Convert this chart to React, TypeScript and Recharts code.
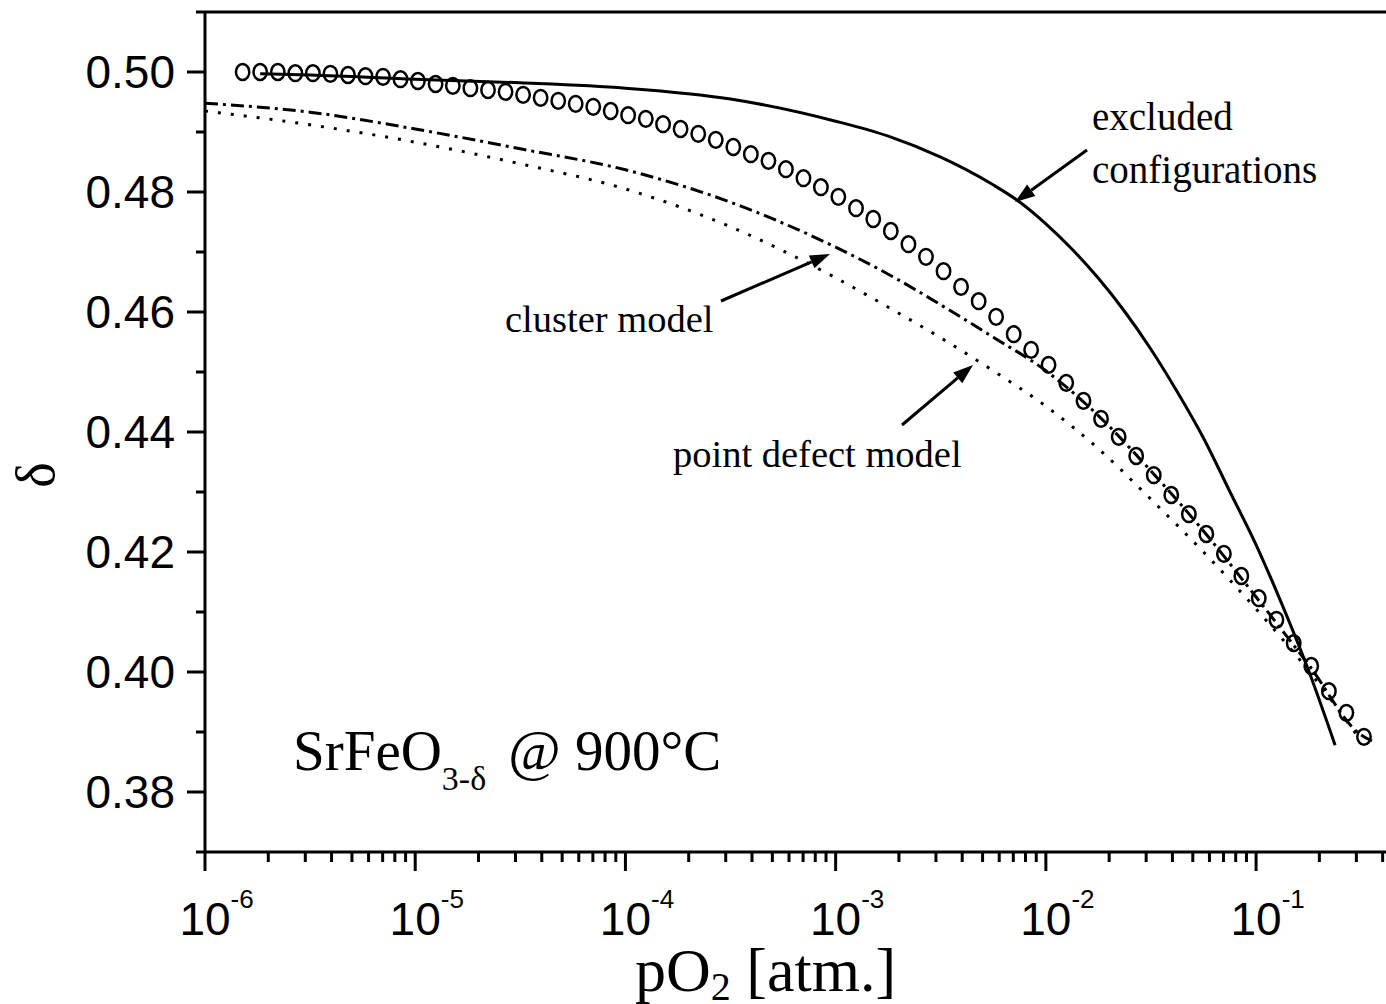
import React from 'react';
import { ComposedChart, Line, Scatter, XAxis, YAxis, ReferenceLine } from 'recharts';

// measured points (open circles)
const measuredP = [
  1.51e-6, 1.83e-6, 2.22e-6, 2.69e-6, 3.26e-6, 3.95e-6, 4.79e-6, 5.8e-6, 7.03e-6, 8.51e-6, 1.03e-5, 1.25e-5,
  1.51e-5, 1.83e-5, 2.22e-5, 2.69e-5, 3.26e-5, 3.95e-5, 4.79e-5, 5.8e-5, 7.03e-5, 8.51e-5, 1.03e-4, 1.25e-4,
  1.51e-4, 1.83e-4, 2.22e-4, 2.69e-4, 3.26e-4, 3.95e-4, 4.79e-4, 5.8e-4, 7.03e-4, 8.51e-4, 1.03e-3, 1.25e-3,
  1.51e-3, 1.83e-3, 2.22e-3, 2.69e-3, 3.26e-3, 3.95e-3, 4.79e-3, 5.8e-3, 7.03e-3, 8.51e-3, 1.03e-2, 1.25e-2,
  1.51e-2, 1.83e-2, 2.22e-2, 2.69e-2, 3.26e-2, 3.95e-2, 4.79e-2, 5.8e-2, 7.03e-2, 8.51e-2, 1.03e-1, 1.25e-1,
  1.51e-1, 1.83e-1, 2.22e-1, 2.69e-1, 3.26e-1,
];
const measuredDelta = [
  0.5, 0.5, 0.5, 0.4998, 0.4998, 0.4997, 0.4995, 0.4993, 0.4992, 0.4988, 0.4985, 0.498,
  0.4977, 0.4973, 0.497, 0.4967, 0.4962, 0.4957, 0.4952, 0.4947, 0.4942, 0.4935, 0.4928, 0.4922,
  0.4913, 0.4905, 0.4897, 0.4887, 0.4875, 0.4863, 0.4852, 0.4838, 0.4823, 0.4808, 0.4792, 0.4773,
  0.4755, 0.4735, 0.4713, 0.4692, 0.4668, 0.4642, 0.4618, 0.4592, 0.4563, 0.4537, 0.4512, 0.4482,
  0.4452, 0.4422, 0.4392, 0.436, 0.4328, 0.4295, 0.4263, 0.423, 0.4197, 0.416, 0.4123, 0.4087,
  0.4048, 0.401, 0.3968, 0.3932, 0.3892,
];

// excluded configurations model (solid)
const excludedP = [
  1.83e-6, 3.16e-6, 1e-5, 3.16e-5, 1e-4, 3.16e-4, 1e-3, 1.78e-3, 3.16e-3, 5.61e-3, 7.53e-3, 1e-2,
  1.33e-2, 1.77e-2, 2.38e-2, 3.16e-2, 4.25e-2, 5.66e-2, 7.52e-2, 1e-1, 1.345e-1, 1.788e-1, 2.377e-1,
];
const excludedDelta = [
  0.4997, 0.4995, 0.4988, 0.4982, 0.4973, 0.4955, 0.4918, 0.4893, 0.4858, 0.4812, 0.4783, 0.4747,
  0.4705, 0.4657, 0.46, 0.4538, 0.4465, 0.4388, 0.43, 0.4212, 0.4108, 0.4, 0.3878,
];

// cluster model (dash-dot)
const clusterP = [1e-6, 3.16e-6, 1e-5, 3.16e-5, 1e-4, 3.16e-4, 1e-3, 1.78e-3, 3.16e-3, 5.62e-3, 1e-2, 1.78e-2, 3.16e-2, 5.62e-2, 1e-1, 1.78e-1, 3.16e-1, 3.56e-1];
const clusterDelta = [0.4948, 0.4933, 0.4905, 0.4872, 0.4837, 0.4783, 0.4708, 0.4663, 0.4612, 0.4558, 0.4502, 0.4427, 0.4335, 0.4235, 0.4125, 0.4012, 0.3895, 0.3885];

// point defect model (dotted)
const pointP = [1e-6, 3.16e-6, 1e-5, 3.16e-5, 1e-4, 3.16e-4, 1e-3, 1.78e-3, 3.16e-3, 5.62e-3, 1e-2, 1.78e-2, 3.16e-2, 5.62e-2, 1e-1, 1.78e-1, 3.16e-1];
const pointDelta = [0.4935, 0.4912, 0.4883, 0.4847, 0.4805, 0.4742, 0.4657, 0.4608, 0.4557, 0.4502, 0.4443, 0.4372, 0.4288, 0.42, 0.4105, 0.4002, 0.3885];

const xTicks = [
  1e-6, 2e-6, 3e-6, 4e-6, 5e-6, 6e-6, 7e-6, 8e-6, 9e-6,
  1e-5, 2e-5, 3e-5, 4e-5, 5e-5, 6e-5, 7e-5, 8e-5, 9e-5,
  1e-4, 2e-4, 3e-4, 4e-4, 5e-4, 6e-4, 7e-4, 8e-4, 9e-4,
  1e-3, 2e-3, 3e-3, 4e-3, 5e-3, 6e-3, 7e-3, 8e-3, 9e-3,
  1e-2, 2e-2, 3e-2, 4e-2, 5e-2, 6e-2, 7e-2, 8e-2, 9e-2,
  1e-1, 2e-1, 3e-1, 4e-1,
];
const yTicks = [0.37, 0.38, 0.39, 0.4, 0.41, 0.42, 0.43, 0.44, 0.45, 0.46, 0.47, 0.48, 0.49, 0.5, 0.51];

const zip = (ps: number[], ds: number[]) => ps.map((p, i) => ({ p, d: ds[i] }));
const measured = zip(measuredP, measuredDelta);
const excluded = zip(excludedP, excludedDelta);
const cluster = zip(clusterP, clusterDelta);
const pointDefect = zip(pointP, pointDelta);

const SANS = '"Liberation Sans", Arial, Helvetica, sans-serif';
const SERIF = '"Liberation Serif", "Times New Roman", Times, serif';

const XTick = (props: any) => {
  const { x, y, payload } = props;
  const v = payload.value as number;
  const lg = Math.log10(v);
  const e = Math.round(lg);
  const major = Math.abs(lg - e) < 1e-6;
  return (
    <g>
      <line x1={x} y1={y} x2={x} y2={y + (major ? 19 : 10)} stroke="#000" strokeWidth={3} />
      {major && (
        <text x={x - 25.6} y={y + 83} fontFamily={SANS} fontSize={46} fill="#000">
          10<tspan fontSize={26} dy={-27}>{String(e)}</tspan>
        </text>
      )}
    </g>
  );
};

const YTick = (props: any) => {
  const { x, y, payload } = props;
  const v = payload.value as number;
  const major = Math.round(v * 100) % 2 === 0;
  return (
    <g>
      <line x1={x} y1={y} x2={x - (major ? 18 : 9)} y2={y} stroke="#000" strokeWidth={3} />
      {major && (
        <text x={x - 30} y={y + 16} fontFamily={SANS} fontSize={46} textAnchor="end" fill="#000">{v.toFixed(2)}</text>
      )}
    </g>
  );
};

const OpenCircle = (props: any) => {
  const { cx, cy } = props;
  return <ellipse cx={cx} cy={cy} rx={6.7} ry={7.9} fill="none" stroke="#000" strokeWidth={2.5} />;
};

const Arrow = ({ x1, y1, x2, y2 }: { x1: number; y1: number; x2: number; y2: number }) => {
  const a = Math.atan2(y2 - y1, x2 - x1);
  const L = 20;
  const W = 7;
  const bx = x2 - L * Math.cos(a);
  const by = y2 - L * Math.sin(a);
  const px = -Math.sin(a) * W;
  const py = Math.cos(a) * W;
  return (
    <g>
      <line x1={x1} y1={y1} x2={bx} y2={by} stroke="#000" strokeWidth={3} />
      <polygon points={`${x2},${y2} ${bx + px},${by + py} ${bx - px},${by - py}`} fill="#000" />
    </g>
  );
};

export default function App() {
  return (
    <div style={{ position: 'absolute', left: 0, top: 0, width: 1386, height: 1004, background: '#fff', overflow: 'hidden' }}>
      <ComposedChart width={1386} height={1004} margin={{ top: 12, right: 0, bottom: 0, left: 0 }}>
        <XAxis
          dataKey="p"
          type="number"
          scale="log"
          domain={[1e-6, 0.415]}
          allowDataOverflow
          ticks={xTicks}
          interval={0}
          height={152}
          tickSize={0}
          tickMargin={0}
          tickLine={false}
          axisLine={{ stroke: '#000', strokeWidth: 3 }}
          tick={<XTick />}
        />
        <YAxis
          type="number"
          domain={[0.37, 0.51]}
          allowDataOverflow
          ticks={yTicks}
          interval={0}
          width={205}
          tickSize={0}
          tickMargin={0}
          tickLine={false}
          axisLine={{ stroke: '#000', strokeWidth: 3 }}
          tick={<YTick />}
        />
        <ReferenceLine y={0.51} stroke="#000" strokeWidth={3} />
        <Line data={excluded} dataKey="d" type="monotone" stroke="#000" strokeWidth={3} dot={false} activeDot={false} isAnimationActive={false} />
        <Line data={cluster} dataKey="d" type="monotone" stroke="#000" strokeWidth={3} strokeDasharray="13 5 3 5" dot={false} activeDot={false} isAnimationActive={false} />
        <Line data={pointDefect} dataKey="d" type="monotone" stroke="#000" strokeWidth={3} strokeDasharray="3 10" dot={false} activeDot={false} isAnimationActive={false} />
        <Scatter data={measured} dataKey="d" shape={<OpenCircle />} isAnimationActive={false} />
      </ComposedChart>
      <svg width={1386} height={1004} style={{ position: 'absolute', left: 0, top: 0, pointerEvents: 'none' }}>
        <g fontFamily={SERIF} fill="#000">
          <text x={1092} y={130} fontSize={39}>excluded</text>
          <text x={1092} y={183} fontSize={39}>configurations</text>
          <text x={505} y={332} fontSize={38.5}>cluster model</text>
          <text x={673} y={467} fontSize={38.5}>point defect model</text>
          <text x={293} y={770} fontSize={57}>
            SrFeO<tspan fontSize={34} dy={20}>3-δ</tspan>
            <tspan dy={-20} dx={22}>@ 900°C</tspan>
          </text>
          <text x={635} y={991} fontSize={62}>
            pO<tspan fontSize={40} dy={9}>2</tspan>
            <tspan dy={-9}> [atm.]</tspan>
          </text>
          <text transform="translate(36,475) rotate(-90)" fontSize={54} textAnchor="middle" dominantBaseline="central">δ</text>
        </g>
        <Arrow x1={1087} y1={150} x2={1015} y2={202} />
        <Arrow x1={721} y1={301} x2={830} y2={254} />
        <Arrow x1={902} y1={425} x2={973} y2={365} />
      </svg>
    </div>
  );
}
